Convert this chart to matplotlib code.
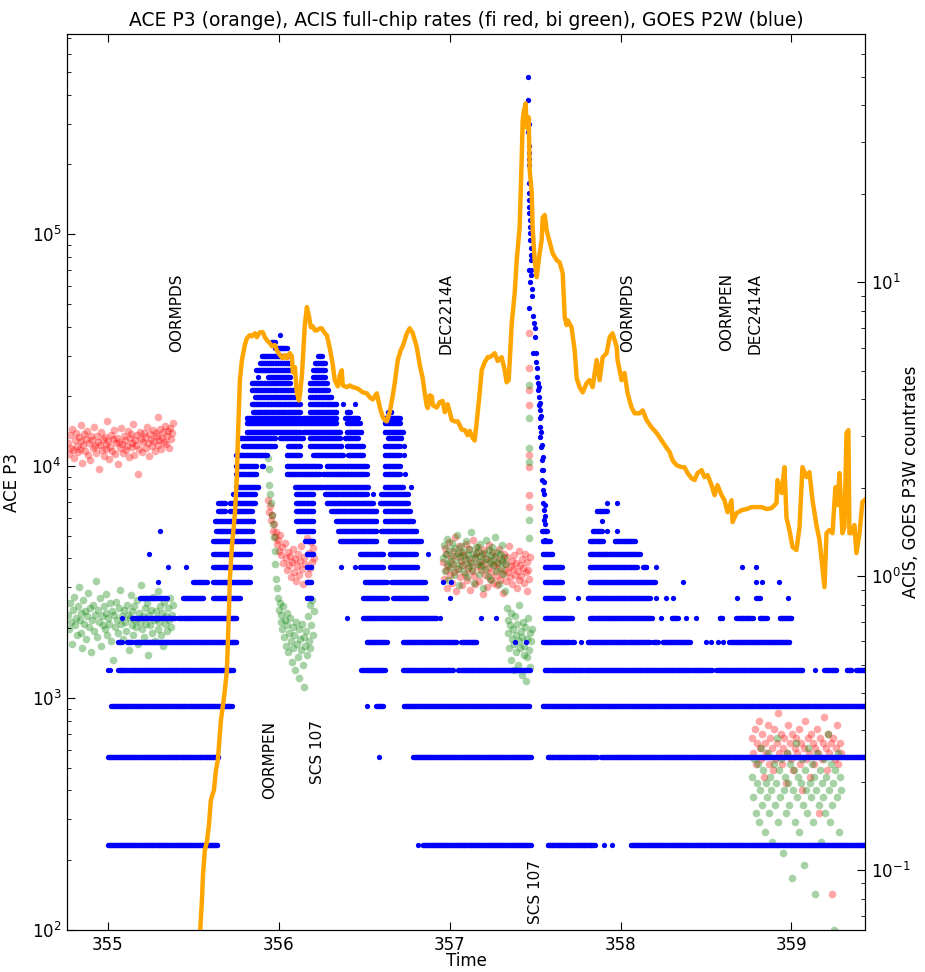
import numpy as np
import matplotlib
matplotlib.use("Agg")
import matplotlib.pyplot as plt

plt.rcParams.update({
    "font.family": "DejaVu Sans",
    "font.size": 12,
    "xtick.direction": "in",
    "ytick.direction": "in",
    "xtick.top": True,
    "xtick.major.size": 6,
    "ytick.major.size": 6,
    "ytick.minor.size": 3,
    "xtick.major.pad": 4,
    "ytick.major.pad": 4,
})

# ACE P3 (left axis)
ace_t = [
    355.538, 355.550, 355.556, 355.567, 355.579, 355.591, 355.602, 355.620, 355.632, 355.643,
    355.661, 355.673, 355.684, 355.696, 355.708, 355.713, 355.725, 355.743, 355.754, 355.760,
    355.772, 355.784, 355.801, 355.813, 355.830, 355.842, 355.860, 355.871, 355.889, 355.906,
    355.918, 355.930, 355.947, 355.959, 355.977, 355.988, 356.006, 356.023, 356.035, 356.047,
    356.064, 356.076, 356.082, 356.094, 356.105, 356.117, 356.123, 356.135, 356.152, 356.164,
    356.175, 356.187, 356.199, 356.211, 356.222, 356.240, 356.251, 356.269, 356.281, 356.298,
    356.316, 356.327, 356.345, 356.357, 356.368, 356.374, 356.398, 356.415, 356.433, 356.456,
    356.474, 356.491, 356.515, 356.532, 356.550, 356.573, 356.591, 356.608, 356.620, 356.632,
    356.649, 356.667, 356.678, 356.696, 356.713, 356.725, 356.749, 356.766, 356.784, 356.807,
    356.825, 356.842, 356.854, 356.865, 356.871, 356.883, 356.895, 356.901, 356.924, 356.942,
    356.959, 356.971, 356.988, 357.012, 357.029, 357.047, 357.070, 357.088, 357.105, 357.117,
    357.135, 357.146, 357.158, 357.175, 357.187, 357.205, 357.222, 357.234, 357.251, 357.263,
    357.281, 357.304, 357.322, 357.333, 357.345, 357.363, 357.380, 357.392, 357.409, 357.421,
    357.427, 357.433, 357.444, 357.450, 357.462, 357.468, 357.480, 357.485, 357.497, 357.509,
    357.526, 357.538, 357.544, 357.556, 357.567, 357.585, 357.602, 357.626, 357.643, 357.661,
    357.673, 357.684, 357.690, 357.713, 357.731, 357.743, 357.760, 357.778, 357.801, 357.819,
    357.836, 357.860, 357.877, 357.895, 357.918, 357.936, 357.953, 357.977, 357.982, 358.006,
    358.023, 358.041, 358.064, 358.082, 358.111, 358.129, 358.152, 358.181, 358.211, 358.240,
    358.269, 358.287, 358.304, 358.327, 358.357, 358.374, 358.392, 358.415, 358.433, 358.450,
    358.474, 358.491, 358.509, 358.532, 358.550, 358.567, 358.591, 358.608, 358.626, 358.649,
    358.655, 358.678, 358.708, 358.737, 358.766, 358.795, 358.825, 358.854, 358.883, 358.912,
    358.918, 358.942, 358.959, 358.971, 358.988, 359.006, 359.029, 359.047, 359.064, 359.088,
    359.105, 359.123, 359.146, 359.164, 359.181, 359.193, 359.205, 359.222, 359.240, 359.257,
    359.269, 359.281, 359.298, 359.310, 359.322, 359.333, 359.339, 359.351, 359.368, 359.380,
    359.398, 359.415, 359.427,
]
ace_p3 = [
    95, 135, 173, 221, 240, 284, 363, 401, 489, 541,
    804, 933, 1080, 1320, 2390, 3230, 4480, 6270, 8970, 12900,
    23500, 28700, 33300, 35600, 36700, 36300, 37400, 36000, 37800, 37800,
    36000, 34900, 33900, 32900, 33300, 31600, 30100, 29200, 30100, 29200,
    30700, 29800, 25400, 26700, 20800, 19200, 20200, 24700, 40600, 48500,
    44800, 39700, 40100, 38500, 38500, 39300, 39300, 37400, 36700, 32300,
    27200, 23500, 22100, 24700, 25900, 22300, 21900, 22300, 21900, 21700,
    21300, 20800, 20600, 19800, 19400, 20600, 17900, 16300, 15800, 15600,
    17100, 20200, 22800, 28700, 31600, 32900, 37400, 39300, 37400, 32600,
    27200, 23900, 20600, 18300, 17800, 20200, 20000, 18300, 17900, 18900,
    19100, 17100, 18500, 15800, 15600, 15600, 14400, 14300, 13600, 14200,
    13200, 12900, 15500, 20600, 25900, 28100, 29500, 29500, 30100, 30700,
    28400, 29500, 25900, 23000, 23500, 41300, 55700, 77300, 107000, 208000,
    310000, 336000, 367000, 289000, 319000, 189000, 150000, 107000, 77300, 65300,
    82800, 94200, 118000, 121000, 104000, 92400, 82800, 77300, 75700, 67900,
    43900, 40600, 42600, 39700, 31600, 23900, 21900, 20800, 22800, 23500,
    21900, 28700, 23500, 29500, 30700, 36000, 37400, 32600, 28700, 23500,
    25200, 20600, 17900, 16900, 16900, 17400, 15800, 14700, 13900, 12900,
    12000, 11500, 10600, 10100, 9900, 9900, 9330, 8870, 8710, 9330,
    9610, 8970, 9150, 8280, 7500, 8280, 7500, 7130, 6330, 7130,
    5740, 6270, 6460, 6530, 6660, 6660, 6660, 6530, 6590, 6930,
    8710, 7660, 9900, 5970, 5300, 4480, 4350, 5460, 9900, 8970,
    9420, 7130, 5570, 4800, 3670, 3010, 5140, 5300, 5140, 8110,
    6790, 9330, 5140, 5460, 13900, 14300, 5140, 5140, 5570, 4220,
    5140, 7000, 7130,
]

# GOES P2W: quantised count-rate levels and the time runs spent at each level
goes_levels = [0.122, 0.242, 0.361, 0.479, 0.596, 0.720, 0.842, 0.954, 1.073, 1.188,
               1.315, 1.422, 1.538, 1.664, 1.771, 1.900, 2.008, 2.223, 2.366, 2.579,
               2.768, 2.946, 3.090, 3.315, 3.446, 3.611, 3.846, 4.062, 4.292, 4.530,
               4.750, 5.020, 5.300, 5.600, 5.970, 6.250, 6.600]
goes_runs = [
    [(355.00, 355.64), (356.813, 356.813), (356.842, 357.474), (357.573, 357.848),
     (357.90, 357.90), (357.947, 357.947), (358.058, 359.427)],
    [(355.00, 355.645), (356.585, 356.585), (356.784, 357.474), (357.573, 357.860),
     (357.883, 359.427)],
    [(355.02, 355.723), (356.513, 356.513), (356.571, 356.610), (356.731, 357.465),
     (357.544, 359.427)],
    [(355.0, 355.0), (355.01, 355.01), (355.06, 355.11), (355.12, 355.733), (356.483, 356.620),
     (356.727, 357.020), (357.049, 357.468), (357.556, 357.778), (357.789, 358.415),
     (358.421, 358.532), (358.561, 359.064), (359.135, 359.135), (359.193, 359.263),
     (359.322, 359.351), (359.380, 359.427)],
    [(355.06, 355.08), (355.11, 355.14), (355.16, 355.752), (356.513, 356.630), (356.727, 357.039),
     (357.068, 357.156), (357.380, 357.380), (357.448, 357.448), (357.544, 357.702),
     (357.713, 357.725), (357.77, 357.77), (357.807, 358.170), (358.19, 358.216),
     (358.246, 358.404), (358.50, 358.50), (358.53, 358.53), (358.57, 358.57), (358.60, 358.60),
     (358.637, 358.988)],
    [(355.08, 355.08), (355.14, 355.39), (355.41, 355.752), (356.396, 356.396), (356.493, 356.922),
     (356.942, 356.942), (357.185, 357.185), (357.273, 357.273), (357.556, 357.713),
     (357.819, 358.181), (358.238, 358.238), (358.298, 358.333), (358.384, 358.384),
     (358.443, 358.443), (358.579, 358.596), (358.678, 358.772), (358.813, 358.854),
     (358.930, 359.0)],
    [(355.187, 355.343), (355.44, 355.557), (355.616, 355.772), (356.162, 356.191), (356.493, 356.630),
     (356.669, 356.864), (357.0, 357.0), (357.556, 357.661), (357.75, 357.75), (357.807, 358.170),
     (358.209, 358.209), (358.267, 358.267), (358.306, 358.306), (358.684, 358.684),
     (358.795, 358.813), (358.977, 358.977)],
    [(355.294, 355.294), (355.50, 355.577), (355.616, 355.83), (356.162, 356.191), (356.503, 356.630),
     (356.659, 356.854), (356.961, 356.961), (357.01, 357.01), (357.556, 357.655), (357.819, 358.199),
     (358.365, 358.365), (358.795, 358.795), (358.830, 358.830), (358.924, 358.924)],
    [(355.353, 355.353), (355.456, 355.456), (355.616, 355.83), (356.162, 356.191), (356.366, 356.366),
     (356.444, 356.444), (356.474, 356.610), (356.649, 356.81), (357.556, 357.655), (357.819, 358.094),
     (358.13, 358.15), (358.209, 358.209), (358.713, 358.713), (358.795, 358.795)],
    [(355.24, 355.24), (355.616, 355.83), (356.162, 356.201), (356.474, 356.610), (356.649, 356.80),
     (356.873, 356.873), (357.544, 357.60), (357.819, 358.111)],
    [(355.616, 355.85), (356.152, 356.201), (356.357, 356.571), (356.649, 356.83), (357.544, 357.585),
     (357.819, 357.895), (357.965, 358.082)],
    [(355.304, 355.304), (355.635, 355.84), (356.113, 356.201), (356.347, 356.571), (356.600, 356.805),
     (357.54, 357.57), (357.837, 357.889), (357.918, 357.918), (357.977, 357.977)],
    [(355.626, 355.85), (356.103, 356.201), (356.337, 356.571), (356.620, 356.786), (357.889, 357.889)],
    [(355.645, 355.684), (355.713, 355.840), (356.103, 356.201), (356.308, 356.571), (356.620, 356.766),
     (357.860, 357.918)],
    [(355.645, 355.684), (355.713, 355.86), (356.103, 356.201), (356.279, 356.552), (356.591, 356.756),
     (357.918, 357.918), (357.977, 357.977)],
    [(355.733, 355.860), (356.103, 356.201), (356.269, 356.513), (356.552, 356.552), (356.600, 356.756)],
    [(355.752, 355.879), (356.094, 356.259), (356.269, 356.522), (356.620, 356.727), (356.776, 356.776)],
    [(355.752, 355.869), (356.045, 356.240), (356.259, 356.513), (356.620, 356.708), (356.74, 356.74)],
    [(355.752, 355.869), (355.899, 355.908), (356.045, 356.240), (356.279, 356.513), (356.620, 356.708)],
    [(355.752, 355.928), (356.045, 356.123), (356.201, 356.376), (356.405, 356.493), (356.620, 356.708),
     (356.73, 356.73)],
    [(355.791, 355.977), (356.055, 356.123), (356.181, 356.366), (356.396, 356.493), (356.620, 356.708),
     (356.73, 356.73)],
    [(355.772, 355.977), (356.006, 356.142), (356.181, 356.357), (356.386, 356.464), (356.639, 356.717)],
    [(355.811, 356.123), (356.142, 356.357), (356.396, 356.483), (356.620, 356.727)],
    [(355.811, 356.337), (356.396, 356.474), (356.620, 356.708)],
    [(355.811, 356.123), (356.142, 356.337), (356.386, 356.464), (356.620, 356.708)],
    [(355.850, 356.123), (356.181, 356.337), (356.396, 356.415), (356.639, 356.659)],
    [(355.840, 356.123), (356.181, 356.337), (356.376, 356.376), (356.444, 356.444)],
    [(355.860, 356.094), (356.181, 356.308)],
    [(355.840, 356.084), (356.181, 356.288)],
    [(355.840, 356.064), (356.181, 356.279)],
    [(355.879, 355.879), (355.938, 356.064), (356.201, 356.269)],
    [(355.869, 356.064), (356.201, 356.269)],
    [(355.889, 356.064), (356.211, 356.269)],
    [(355.899, 356.055), (356.230, 356.250)],
    [(355.977, 356.045)],
    [(355.957, 355.977)],
    [(356.006, 356.006)],
]
# GOES values around the flare peak (not on the quantised grid)
goes_spike_t = [357.458, 357.458, 357.458, 357.462, 357.458, 357.462, 357.462, 357.464, 357.464, 357.464,
                357.464, 357.464, 357.464, 357.464, 357.468, 357.468, 357.470, 357.472, 357.474, 357.474,
                357.474, 357.464, 357.478, 357.478, 357.468, 357.481, 357.480, 357.464, 357.487, 357.491,
                357.497, 357.499, 357.487, 357.503, 357.507, 357.513, 357.513, 357.516, 357.516, 357.522,
                357.522, 357.526, 357.526, 357.530, 357.530, 357.532, 357.538, 357.540, 357.542, 357.546,
                357.546, 357.550, 357.552, 357.555, 357.557,
                357.520, 357.527, 357.532, 357.536, 357.540, 357.543, 357.547, 357.550, 357.553, 357.556,
                357.558, 357.560]
goes_spike_v = [49.9, 41.6, 36.1, 34.5, 32.4, 29.2, 27.5, 26.2, 25.0, 21.7,
                20.1, 19.0, 18.1, 17.2, 16.3, 15.4, 14.7, 13.9, 13.1, 12.4,
                11.9, 11.0, 11.0, 10.6, 10.0, 9.5, 9.0, 8.2, 7.7, 7.3,
                6.98, 6.5, 5.74, 5.74, 5.35, 5.10, 4.75, 4.53, 4.29, 4.06,
                3.82, 3.67, 3.45, 3.21, 2.97, 2.75, 2.48, 2.29, 2.12, 1.96,
                1.77, 1.68, 1.55, 1.43, 1.33,
                4.4, 3.9, 3.5, 3.1, 2.8, 2.55, 2.3, 2.1, 1.9, 1.75, 1.6, 1.5]

# ACIS full-chip rates, FI (red) and BI (green), regular cadence within each interval
left_span = (354.766, 355.38)
left_fi = [2.83, 2.61, 3.02, 2.74, 3.18, 2.69, 2.52, 2.91, 3.07, 2.78,
           2.64, 2.97, 2.71, 3.26, 2.88, 2.43, 2.80, 3.04, 2.67, 2.93,
           3.11, 2.58, 2.85, 2.49, 2.99, 2.90, 2.72, 3.21, 2.77, 2.62,
           3.01, 2.86, 2.31, 2.79, 3.09, 2.68, 2.94, 2.57, 2.98, 2.82,
           2.70, 3.38, 2.89, 2.51, 2.76, 3.03, 2.66, 2.92, 3.14, 2.60,
           2.84, 2.96, 2.41, 2.87, 2.73, 3.19, 2.81, 2.63, 3.00, 2.91,
           2.69, 2.78, 3.12, 2.54, 2.95, 3.05, 2.75, 2.83, 3.29, 2.59,
           2.90, 2.80, 3.02, 2.22, 2.71, 3.10, 2.93, 2.65, 2.86, 3.06,
           2.97, 2.74, 3.23, 2.85, 2.56, 3.04, 2.92, 2.77, 3.15, 2.88,
           2.67, 3.08, 2.99, 3.47, 2.79, 2.90, 3.16, 2.70, 2.95, 3.09,
           2.87, 3.24, 2.81, 3.01, 3.12, 2.73, 3.20, 2.94, 3.06, 3.33]
left_bi = [0.74, 0.66, 0.81, 0.70, 0.59, 0.77, 0.85, 0.68, 0.72, 0.63,
           0.79, 0.92, 0.71, 0.64, 0.75, 0.57, 0.83, 0.69, 0.76, 0.61,
           0.73, 0.88, 0.67, 0.78, 0.55, 0.71, 0.80, 0.65, 0.74, 0.96,
           0.62, 0.77, 0.70, 0.84, 0.58, 0.73, 0.68, 0.79, 0.66, 0.75,
           0.87, 0.63, 0.72, 0.69, 0.81, 0.60, 0.76, 0.52, 0.74, 0.67,
           0.82, 0.71, 0.64, 0.78, 0.90, 0.69, 0.73, 0.61, 0.77, 0.70,
           0.65, 0.80, 0.74, 0.56, 0.72, 0.86, 0.68, 0.76, 0.63, 0.79,
           0.71, 0.67, 0.83, 0.59, 0.75, 0.70, 0.93, 0.66, 0.73, 0.62,
           0.78, 0.69, 0.81, 0.54, 0.74, 0.68, 0.77, 0.64, 0.85, 0.71,
           0.60, 0.76, 0.72, 0.66, 0.89, 0.70, 0.79, 0.63, 0.75, 0.58,
           0.82, 0.69, 0.73, 0.65, 0.78, 0.71, 0.84, 0.67, 0.74, 0.80]

tail_span = (355.935, 356.205)
tail_fi = [1.82, 1.66, 1.74, 1.55, 1.61, 1.43, 1.50, 1.36, 1.41, 1.29,
           1.33, 1.22, 1.38, 1.18, 1.26, 1.11, 1.30, 1.15, 1.05, 1.21,
           1.09, 1.17, 0.99, 1.12, 1.24, 1.03, 1.14, 0.96, 1.08, 1.19,
           1.01, 1.13, 1.27, 1.06, 0.94, 1.16, 1.10, 1.35, 1.02, 1.20,
           1.07, 1.31, 1.12, 1.25, 1.15]
tail_bi = [2.52, 2.31, 2.05, 1.90, 1.78, 1.62, 1.51, 1.36, 1.22, 1.10,
           0.98, 0.91, 0.84, 0.77, 0.81, 0.70, 0.74, 0.66, 0.79, 0.62,
           0.71, 0.58, 0.68, 0.75, 0.55, 0.64, 0.72, 0.60, 0.51, 0.67,
           0.57, 0.63, 0.48, 0.70, 0.59, 0.53, 0.66, 0.45, 0.61, 0.56,
           0.69, 0.50, 0.62, 0.42, 0.58, 0.65, 0.54, 0.73, 0.60, 0.80,
           0.57, 0.68, 0.83, 0.63, 0.76]

mid_fi_span = (356.96, 357.47)
mid_fi = [1.12, 0.98, 1.25, 1.05, 1.19, 0.91, 1.08, 1.31, 1.01, 1.15,
          0.95, 1.22, 1.10, 1.03, 1.36, 0.89, 1.17, 1.06, 1.27, 0.99,
          1.13, 1.21, 0.93, 1.09, 1.18, 1.02, 1.29, 0.97, 1.14, 1.07,
          1.24, 0.90, 1.11, 1.04, 1.33, 1.00, 1.16, 0.94, 1.20, 1.08,
          1.26, 0.96, 1.12, 1.05, 1.19, 0.87, 1.10, 1.23, 1.01, 1.15,
          0.92, 1.07, 1.28, 0.98, 1.13, 1.03, 1.21, 0.95, 1.09, 1.17,
          1.00, 1.11, 0.93, 1.06, 1.24, 0.97, 1.14, 1.02, 0.88, 1.19,
          1.05, 1.10, 0.96, 1.16, 1.03, 1.27, 0.99, 1.08, 1.13, 0.94,
          1.06, 1.18, 1.01, 1.11, 0.91, 1.04, 1.22, 0.97, 1.09, 1.00,
          1.14, 1.07, 0.95, 1.19, 1.03, 0.89, 1.12, 1.05, 0.98, 1.16]
mid_bi_span = (356.96, 357.33)
mid_bi = [1.15, 1.28, 1.04, 1.19, 1.10, 1.34, 0.97, 1.23, 1.13, 1.07,
          1.30, 1.17, 1.01, 1.25, 1.11, 1.38, 1.06, 1.20, 0.93, 1.16,
          1.27, 1.09, 1.21, 1.03, 1.14, 1.32, 0.99, 1.18, 1.08, 1.24,
          1.12, 1.41, 1.05, 1.19, 0.95, 1.15, 1.26, 1.10, 1.22, 1.02,
          1.17, 1.29, 1.08, 1.13, 0.91, 1.20, 1.06, 1.33, 1.14, 1.00,
          1.23, 1.11, 1.18, 0.97, 1.26, 1.09, 1.15, 1.36, 1.04, 1.21,
          1.12, 0.94, 1.19, 1.07, 1.28, 1.13, 1.02, 1.16, 0.89, 1.10]
low_bi_span = (357.335, 357.48)
low_bi = [0.78, 0.64, 0.71, 0.57, 0.68, 0.52, 0.75, 0.61, 0.66, 0.48,
          0.59, 0.73, 0.55, 0.63, 0.69, 0.50, 0.60, 0.80, 0.57, 0.65,
          0.46, 0.62, 0.70, 0.54, 0.58, 0.67, 0.44, 0.61, 0.53, 0.72,
          0.56, 0.64, 0.49, 0.60, 0.66]

peak_t = 357.463
peak_fi = [6.7, 5.13, 4.29, 3.82, 2.58, 2.35, 1.89, 1.72]
peak_bi = [4.46, 3.45, 2.73, 2.44, 1.55, 1.35]

# late interval: rates are integer counts times one quantum
acis_quantum = 0.0104
late_span = (358.77, 359.29)
late_fi_counts = [27, 24, 29, 22, 26, 31, 25, 23, 28, 20,
                  26, 24, 30, 22, 27, 25, 21, 29, 23, 26,
                  33, 24, 28, 22, 25, 27, 19, 24, 30, 26,
                  23, 28, 21, 25, 27, 24, 29, 22, 26, 18,
                  25, 31, 23, 27, 24, 20, 28, 26, 22, 25,
                  29, 24, 15, 27, 23, 26, 32, 25, 21, 28,
                  24, 26, 8, 27, 23, 25, 30, 22, 26, 24]
late_bi_counts = [20, 17, 23, 15, 19, 22, 14, 18, 25, 16,
                  21, 13, 19, 17, 24, 15, 20, 18, 12, 22,
                  16, 19, 27, 14, 21, 17, 23, 11, 18, 20,
                  15, 24, 19, 16, 22, 9, 18, 21, 14, 26,
                  17, 20, 13, 19, 23, 16, 10, 21, 18, 15,
                  25, 19, 17, 22, 14, 20, 8, 18, 24, 16,
                  21, 12, 19, 17, 23, 15, 20, 28, 18, 14,
                  22, 16, 19, 6, 21, 17, 24, 13, 20, 18]

# command annotations
cmd_names = ["OORMPDS", "OORMPEN", "SCS 107", "DEC2214A", "SCS 107", "OORMPDS", "OORMPEN", "DEC2414A"]
cmd_t = [355.404, 355.947, 356.228, 356.977, 357.503, 358.041, 358.620, 358.784]
cmd_y = [6.8e4, 800, 800, 6.8e4, 200, 6.8e4, 6.8e4, 6.8e4]


fig = plt.figure(figsize=(9.25, 9.72), dpi=100)
ax1 = fig.add_axes([0.0724, 0.0432, 0.8627, 0.9218])
ax2 = ax1.twinx()
# ACE line is drawn above the count-rate dots
ax1.set_zorder(ax2.get_zorder() + 1)
ax1.patch.set_visible(False)

ax1.plot(ace_t, ace_p3, color="orange", lw=3.2)
ax1.set_yscale("log")
ax1.set_ylim(100, 7.3e5)
ax1.set_xlim(354.76, 359.43)
ax1.set_xticks([355, 356, 357, 358, 359])
ax1.set_xticklabels(["355", "356", "357", "358", "359"])
ax1.set_xlabel("Time")
ax1.xaxis.set_label_coords(0.5, -0.025)
ax1.set_ylabel("ACE P3")
ax1.yaxis.set_label_coords(-0.058, 0.5)
ax1.set_title("ACE P3 (orange), ACIS full-chip rates (fi red, bi green), GOES P2W (blue)",
              fontsize=13.5, pad=6)
for name, t, y in zip(cmd_names, cmd_t, cmd_y):
    ax1.text(t, y, name, rotation=90, ha="center", va="top", fontsize=11)

ax2.set_yscale("log")
ax2.set_ylim(0.0625, 70)
ax2.set_ylabel("ACIS, GOES P3W countrates")
ax2.yaxis.set_label_coords(1.046, 0.5)


def cloud(span, vals, color):
    t = np.linspace(span[0], span[1], len(vals))
    ax2.plot(t, vals, "o", color=color, alpha=0.35, ms=5.5, mew=0)


cloud(left_span, left_fi, "red")
cloud(tail_span, tail_fi, "red")
cloud(mid_fi_span, mid_fi, "red")
cloud(late_span, np.array(late_fi_counts) * acis_quantum, "red")
ax2.plot([peak_t] * len(peak_fi), peak_fi, "o", color="red", alpha=0.35, ms=5.5, mew=0)

cloud(left_span, left_bi, "green")
cloud(tail_span, tail_bi, "green")
cloud(mid_bi_span, mid_bi, "green")
cloud(low_bi_span, low_bi, "green")
cloud(late_span, np.array(late_bi_counts) * acis_quantum, "green")
ax2.plot([peak_t] * len(peak_bi), peak_bi, "o", color="green", alpha=0.35, ms=5.5, mew=0)

gt, gv = [], []
for lev, runs in zip(goes_levels, goes_runs):
    for a, b in runs:
        n = max(1, int(round((b - a) / 0.004)) + 1)
        gt.extend(np.linspace(a, b, n))
        gv.extend([lev] * n)
ax2.plot(gt, gv, "o", color="blue", ms=3.8, mew=0)
ax2.plot(goes_spike_t, goes_spike_v, "o", color="blue", ms=3.8, mew=0)

fig.savefig("out.png", dpi=100)
